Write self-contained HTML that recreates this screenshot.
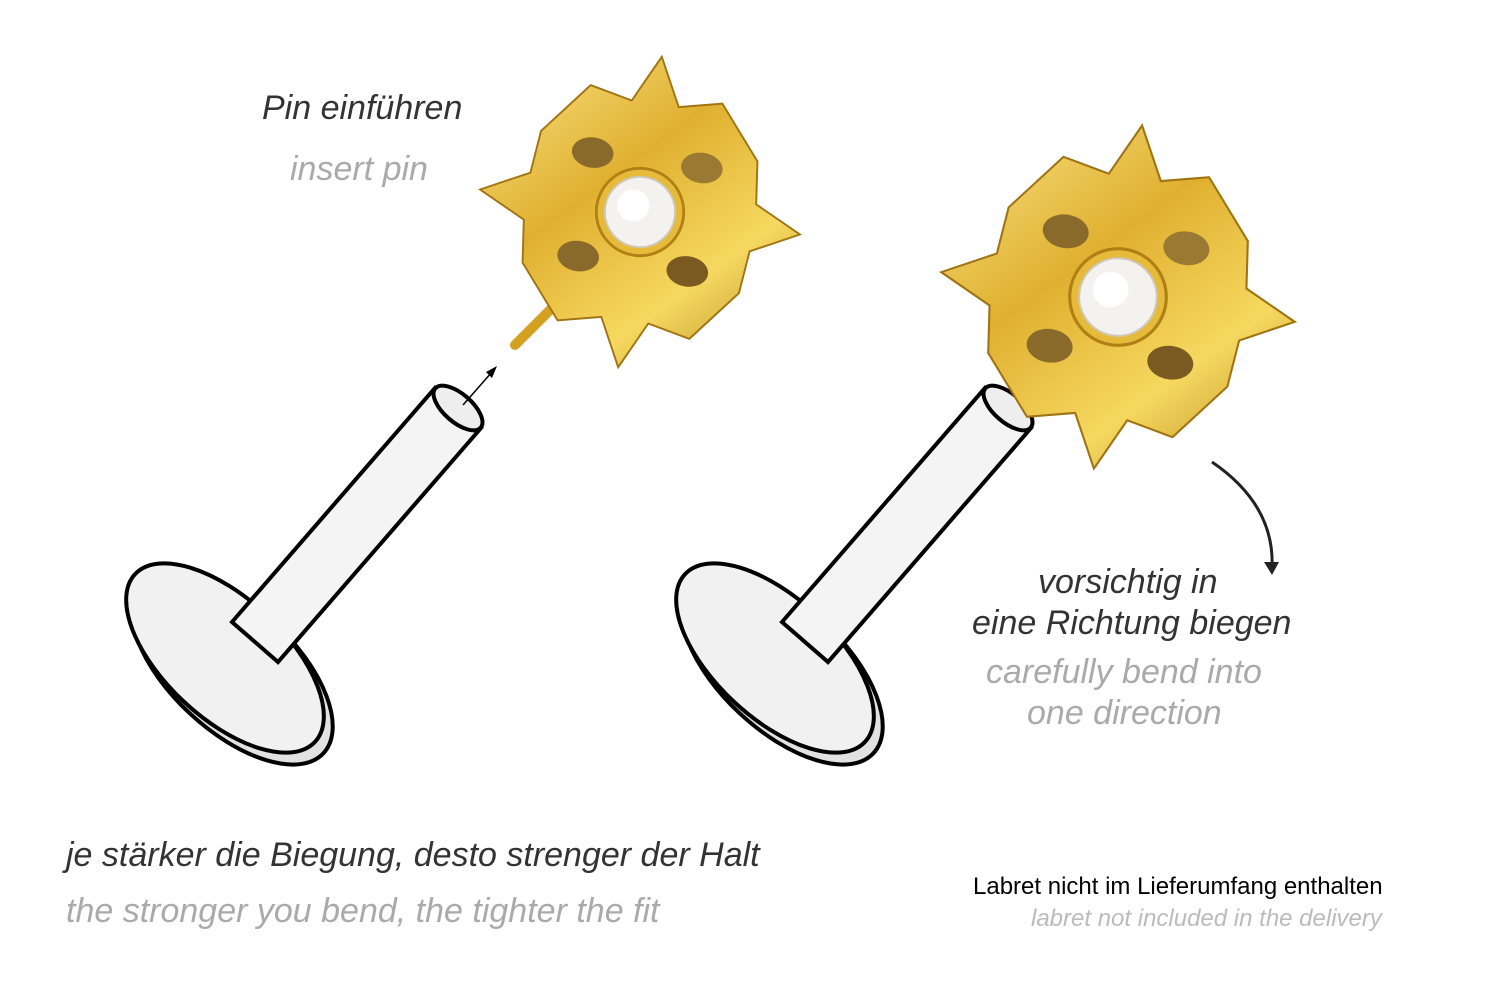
<!DOCTYPE html>
<html><head><meta charset="utf-8"><style>
html,body{margin:0;padding:0;background:#fff;}
body{width:1500px;height:1001px;position:relative;overflow:hidden;font-family:"Liberation Sans",sans-serif;}
.t{position:absolute;font-style:italic;white-space:nowrap;}
svg{position:absolute;left:0;top:0;}
</style></head><body>
<svg width="1500" height="1001" viewBox="0 0 1500 1001">
<defs>
<linearGradient id="g" x1="0" y1="0" x2="1" y2="1">
<stop offset="0" stop-color="#f9e68a"/><stop offset="0.4" stop-color="#e0b030"/><stop offset="0.7" stop-color="#f6d860"/><stop offset="1" stop-color="#b08418"/></linearGradient>
<g id="orn">
<path d="M0,-165 L25,-115 L70,-125 L115,-70 L120,-25 L170,0 L120,25 L115,70 L70,125 L25,115 L0,165 L-25,115 L-70,125 L-115,70 L-120,25 L-170,0 L-120,-25 L-115,-70 L-70,-125 L-25,-115 Z" fill="url(#g)" stroke="#a07412" stroke-width="2"/>
<ellipse cx="-58" cy="-55" rx="22" ry="16" fill="#8a6a2a"/>
<ellipse cx="58" cy="-55" rx="22" ry="16" fill="#9a7a32"/>
<ellipse cx="-58" cy="55" rx="22" ry="16" fill="#8a6a2a"/>
<ellipse cx="58" cy="55" rx="22" ry="16" fill="#7a5a20"/>
<circle r="46" fill="#e6bb3a" stroke="#b08016" stroke-width="3"/>
<circle r="37" fill="#f4f2ee" stroke="#cfc7b7" stroke-width="2"/>
<circle cx="-8" cy="-6" r="17" fill="#fff"/>
</g>
<g id="lab" fill="#e2e2e2" stroke="#000" stroke-width="4">
<ellipse cx="232" cy="668" rx="125" ry="62" transform="rotate(43 232 668)"/>
<ellipse cx="225" cy="658" rx="123" ry="60" transform="rotate(43 225 658)" fill="#f1f1f1"/>
<path d="M232,622 L435,388 L481,428 L278,662 Z" fill="#f4f4f4"/>
<ellipse cx="458" cy="408" rx="30" ry="14" transform="rotate(41 458 408)" fill="#eee"/>
</g>
</defs>
<use href="#lab"/>
<use href="#lab" x="550"/>
<line x1="515" y1="345" x2="560" y2="300" stroke="#d4a020" stroke-width="10" stroke-linecap="round"/>
<use href="#orn" transform="translate(640,212) rotate(8) scale(0.95)"/>
<use href="#orn" transform="translate(1118,297) rotate(8) scale(1.05)"/>
<line x1="463" y1="405" x2="492" y2="372" stroke="#000" stroke-width="1.5"/>
<path d="M497,366 L486,372 L492,378 Z"/>
<path d="M1212,462 Q1275,505 1272,568" fill="none" stroke="#222" stroke-width="3"/>
<path d="M1264,562 L1272,575 L1279,562 Z" fill="#222"/>
</svg>
<div class="t" style="left:262px;top:89px;font-size:34px;color:#333;">Pin einführen</div>
<div class="t" style="left:290px;top:150px;font-size:34px;color:#aaa;">insert pin</div>
<div class="t" style="left:1038px;top:563px;font-size:34px;color:#333;">vorsichtig in</div>
<div class="t" style="left:972px;top:604px;font-size:34px;color:#333;">eine Richtung biegen</div>
<div class="t" style="left:986px;top:653px;font-size:34px;color:#aaa;">carefully bend into</div>
<div class="t" style="left:1027px;top:694px;font-size:34px;color:#aaa;">one direction</div>
<div class="t" style="left:66px;top:836px;font-size:34px;color:#333;">je stärker die Biegung, desto strenger der Halt</div>
<div class="t" style="left:66px;top:892px;font-size:34px;color:#aaa;">the stronger you bend, the tighter the fit</div>
<div class="t" style="left:973px;top:873px;font-size:24px;color:#000;font-style:normal;">Labret nicht im Lieferumfang enthalten</div>
<div class="t" style="left:1031px;top:905px;font-size:24px;color:#bbb;">labret not included in the delivery</div>
</body></html>
